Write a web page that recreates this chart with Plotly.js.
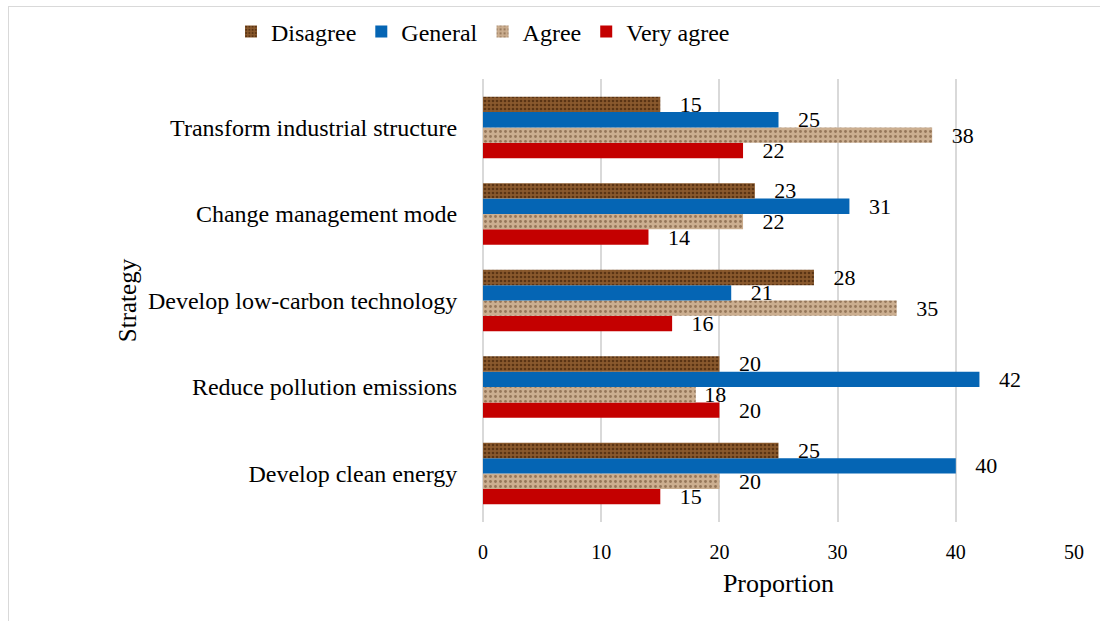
<!DOCTYPE html>
<html>
<head>
<meta charset="utf-8">
<script src="https://cdn.plot.ly/plotly-3.0.1.min.js"></script>
<style>
  html, body { margin: 0; padding: 0; background: #fff; }
  #frame { position: absolute; left: 8px; top: 6px; width: 1100px; height: 620px; border: 1px solid #D9D9D9; pointer-events: none; }
  #chart { width: 1100px; height: 621px; }
</style>
</head>
<body>
<div id="chart"></div>
<div id="frame"></div>
<script>
const categories = ['Develop clean energy', 'Reduce pollution emissions', 'Develop low-carbon technology', 'Change management mode', 'Transform industrial structure'];
const disagree  = [25, 20, 28, 23, 15];
const general   = [40, 42, 21, 31, 25];
const agree     = [20, 18, 35, 22, 38];
const veryAgree = [15, 20, 16, 14, 22];
const xTicks = [0, 10, 20, 30, 40, 50];

const font = "'Liberation Serif', 'Times New Roman', serif";
const NB = '\u00a0';
// label padding (in non-breaking spaces); the crowded "18" label sits tight to its bar
function bar(name, vals, marker, tightIdx) {
  return {
    type: 'bar', orientation: 'h', name: name, y: categories, x: vals,
    marker: marker,
    text: vals.map((v, i) => (i === tightIdx ? NB : NB.repeat(3)) + v),
    textposition: 'outside', constraintext: 'none', cliponaxis: false,
    textfont: { family: font, size: 22, color: '#000' },
    hoverinfo: 'x+name'
  };
}
const traces = [
  bar('Very agree', veryAgree, { color: '#C40000', line: { width: 0 } }),
  bar('Agree', agree, { color: '#C6A888', line: { width: 0 }, pattern: { shape: '.', fgcolor: '#957659', bgcolor: '#CBAE90', size: 5, solidity: 0.25, fillmode: 'replace' } }, 1),
  bar('General', general, { color: '#0565B4', line: { width: 0 } }),
  bar('Disagree', disagree, { color: '#7E4D24', line: { width: 0 }, pattern: { shape: '.', fgcolor: '#5A3414', bgcolor: '#8A592D', size: 4, solidity: 0.35, fillmode: 'replace' } })
];

const layout = {
  width: 1100, height: 621,
  margin: { l: 483, r: 26, t: 79, b: 99 },
  paper_bgcolor: '#fff', plot_bgcolor: '#fff',
  barmode: 'group', bargap: 0.29, bargroupgap: 0,
  font: { family: font, size: 19, color: '#000' },
  showlegend: true,
  legend: {
    orientation: 'h', traceorder: 'reversed',
    xref: 'container', yref: 'container', x: 0.21, y: 0.985, xanchor: 'left', yanchor: 'top',
    font: { family: font, size: 24, color: '#000' },
    itemwidth: 30, tracegroupgap: 0
  },
  xaxis: {
    range: [0, 50], tickvals: xTicks, ticktext: xTicks.map(String),
    showgrid: true, gridcolor: '#D9D9D9', gridwidth: 2,
    zeroline: true, zerolinecolor: '#D9D9D9', zerolinewidth: 2,
    showline: false, ticks: 'outside', ticklen: 12, tickcolor: 'rgba(0,0,0,0)',
    tickfont: { family: font, size: 20 },
    title: { text: 'Proportion', font: { family: font, size: 26 }, standoff: 11 },
    fixedrange: true
  },
  yaxis: {
    type: 'category', range: [-0.56, 4.56],
    showgrid: false, zeroline: false, showline: false,
    ticks: 'outside', ticklen: 20, tickcolor: 'rgba(0,0,0,0)',
    tickfont: { family: font, size: 24 },
    title: { text: 'Strategy', font: { family: font, size: 25 }, standoff: 4 },
    fixedrange: true
  }
};
Plotly.newPlot('chart', traces, layout, { displayModeBar: false, staticPlot: true });
</script>
</body>
</html>
